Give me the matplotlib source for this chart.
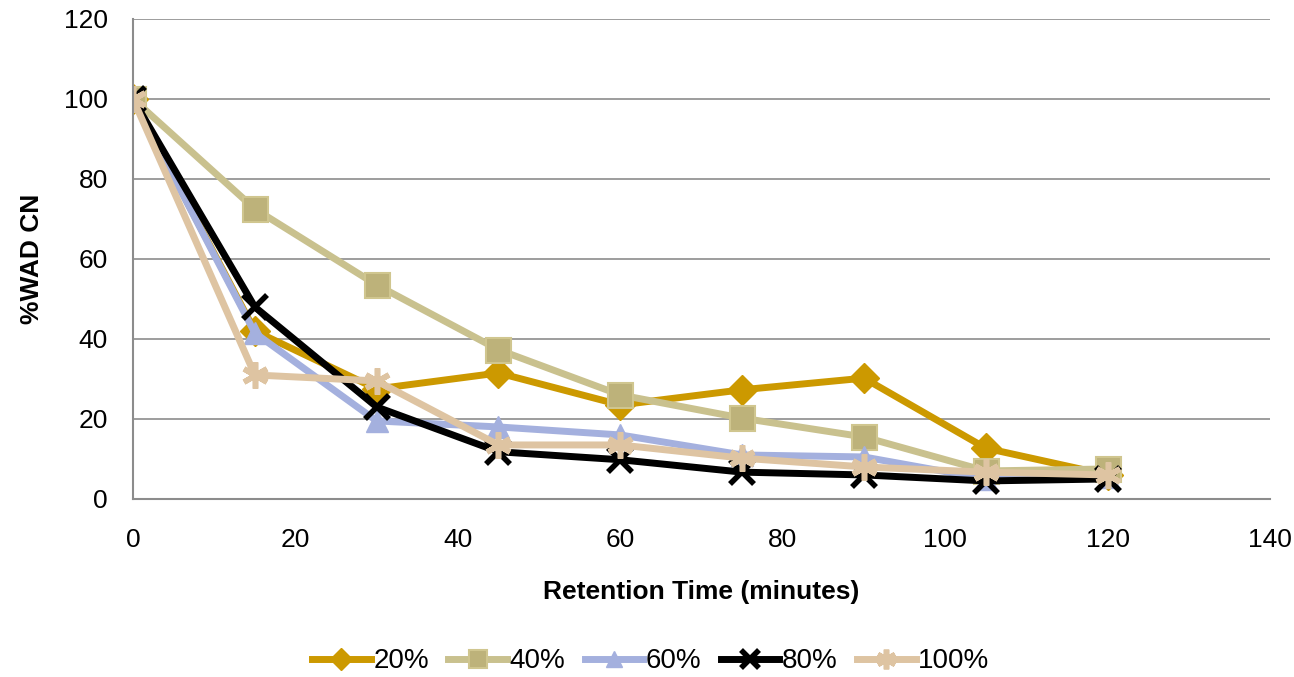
import matplotlib.pyplot as plt

plt.rcParams['font.family'] = ['Liberation Sans', 'DejaVu Sans']

time = [0, 15, 30, 45, 60, 75, 90, 105, 120]
wad_20 = [100, 42, 27.5, 31.5, 23.5, 27.3, 30.2, 12.7, 6]
wad_40 = [100, 72.5, 53.5, 37.3, 26, 20.2, 15.5, 7, 7.5]
wad_60 = [100, 41.5, 19.5, 18, 16, 11, 10.5, 5, 5.5]
wad_80 = [100, 48, 23, 11.8, 9.8, 6.7, 6, 4.5, 5]
wad_100 = [100, 31, 29.5, 13.5, 13.5, 10.2, 8, 6.7, 6]

series = [
    ('20%', wad_20, '#CC9900', 'D', 15),
    ('40%', wad_40, '#C9C18E', 's', 18),
    ('60%', wad_60, '#A4B0DE', '^', 16),
    ('80%', wad_80, '#000000', 'x', 17),
    ('100%', wad_100, '#DEC4A2', (6, 2, 0), 19),
]

fig = plt.figure(figsize=(12.94, 6.77), dpi=100)
ax = fig.add_axes([0.1028, 0.263, 0.8787, 0.709])

for label, vals, color, marker, ms in series:
    if marker == 's':
        ax.plot(time, vals, color=color, lw=5, marker=marker, ms=ms,
                mfc='#BDB27A', mec='#D0C68F', mew=1.5, label=label)
    elif marker in ('x', (6, 2, 0)):
        ax.plot(time, vals, color=color, lw=5, marker=marker, ms=ms,
                mew=4, label=label)
    else:
        ax.plot(time, vals, color=color, lw=5, marker=marker, ms=ms,
                mec=color, label=label)

ax.set_xlim(0, 140)
ax.set_ylim(0, 120)
ax.set_xticks(range(0, 141, 20))
ax.set_yticks(range(0, 121, 20))
ax.grid(axis='y', color='#8C8C8C', lw=1.2)
ax.set_axisbelow(True)
for s in ['top', 'right']:
    ax.spines[s].set_visible(False)
for s in ['left', 'bottom']:
    ax.spines[s].set_color('#8C8C8C')
    ax.spines[s].set_linewidth(1.5)
ax.tick_params(axis='y', labelsize=19, length=0, pad=18)
ax.tick_params(axis='x', labelsize=19, length=0, pad=21)

ax.set_xlabel('Retention Time (minutes)', fontsize=19, fontweight='bold')
ax.set_ylabel('%WAD CN', fontsize=19, fontweight='bold')
ax.xaxis.set_label_coords(0.5, -0.168)
ax.yaxis.set_label_coords(-0.078, 0.5)

fig.legend(*ax.get_legend_handles_labels(), loc='center',
           bbox_to_anchor=(0.503, 0.023), ncol=5, frameon=False,
           fontsize=20, handlelength=2.1, columnspacing=0.7,
           handletextpad=0.1, markerscale=0.75)

fig.savefig('out.png', dpi=100)
